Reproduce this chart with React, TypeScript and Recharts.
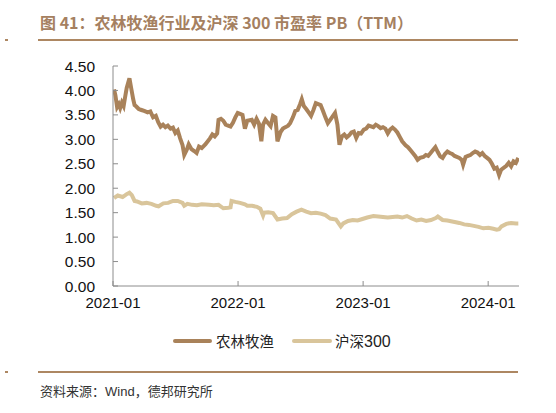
import React from 'react';
import { LineChart, Line, XAxis, YAxis } from 'recharts';

// 农林牧渔 PB (TTM), sampled by trading date
const agriDates = [
  '2021-01-04', '2021-01-08', '2021-01-13', '2021-01-18', '2021-01-22', '2021-01-27', '2021-02-01', '2021-02-05',
  '2021-02-10', '2021-02-18', '2021-02-23', '2021-03-01', '2021-03-05', '2021-03-10', '2021-03-17', '2021-03-25',
  '2021-04-02', '2021-04-12', '2021-04-20', '2021-04-28', '2021-05-06', '2021-05-13', '2021-05-20', '2021-05-27',
  '2021-06-03', '2021-06-10', '2021-06-18', '2021-06-25', '2021-07-02', '2021-07-09', '2021-07-16', '2021-07-23',
  '2021-07-28', '2021-08-04', '2021-08-10', '2021-08-18', '2021-08-26', '2021-09-02', '2021-09-09', '2021-09-17',
  '2021-09-28', '2021-10-11', '2021-10-18', '2021-10-25', '2021-11-01', '2021-11-05', '2021-11-12', '2021-11-19',
  '2021-11-26', '2021-12-03', '2021-12-10', '2021-12-17', '2021-12-24', '2021-12-31', '2022-01-07', '2022-01-14',
  '2022-01-21', '2022-01-28', '2022-02-10', '2022-02-17', '2022-02-24', '2022-03-03', '2022-03-10', '2022-03-15',
  '2022-03-22', '2022-03-30', '2022-04-06', '2022-04-13', '2022-04-20', '2022-04-26', '2022-05-05', '2022-05-12',
  '2022-05-20', '2022-05-27', '2022-06-02', '2022-06-10', '2022-06-17', '2022-06-24', '2022-07-01', '2022-07-06',
  '2022-07-12', '2022-07-19', '2022-07-26', '2022-08-02', '2022-08-09', '2022-08-16', '2022-08-23', '2022-08-30',
  '2022-09-06', '2022-09-13', '2022-09-20', '2022-09-27', '2022-10-11', '2022-10-18', '2022-10-24', '2022-10-31',
  '2022-11-07', '2022-11-14', '2022-11-21', '2022-11-28', '2022-12-05', '2022-12-12', '2022-12-19', '2022-12-26',
  '2023-01-03', '2023-01-10', '2023-01-17', '2023-01-31', '2023-02-07', '2023-02-14', '2023-02-21', '2023-02-28',
  '2023-03-07', '2023-03-14', '2023-03-21', '2023-03-28', '2023-04-04', '2023-04-11', '2023-04-18', '2023-04-25',
  '2023-05-05', '2023-05-12', '2023-05-19', '2023-05-26', '2023-06-02', '2023-06-09', '2023-06-16', '2023-06-26',
  '2023-07-03', '2023-07-10', '2023-07-17', '2023-07-24', '2023-07-31', '2023-08-07', '2023-08-14', '2023-08-21',
  '2023-08-28', '2023-09-04', '2023-09-11', '2023-09-18', '2023-09-25', '2023-10-09', '2023-10-16', '2023-10-20',
  '2023-10-27', '2023-11-03', '2023-11-10', '2023-11-17', '2023-11-24', '2023-12-01', '2023-12-08', '2023-12-15',
  '2023-12-22', '2023-12-29', '2024-01-05', '2024-01-12', '2024-01-19', '2024-01-26', '2024-02-02', '2024-02-08',
  '2024-02-23', '2024-03-01', '2024-03-08', '2024-03-15', '2024-03-22', '2024-03-29',
];
const agriValues = [
  4.02, 3.9, 3.66, 3.72, 3.64, 3.75, 3.68, 3.85,
  4.05, 4.25, 4.05, 3.82, 3.7, 3.67, 3.62, 3.6,
  3.58, 3.55, 3.57, 3.45, 3.48, 3.35, 3.26, 3.3,
  3.25, 3.28, 3.22, 3.24, 3.13, 3.18, 3.02, 2.88,
  2.68, 2.78, 2.9, 2.8, 2.76, 2.72, 2.85, 2.82,
  2.9, 3.02, 3.1, 3.06, 3.12, 3.4, 3.42, 3.38,
  3.3, 3.28, 3.26, 3.34, 3.45, 3.54, 3.52, 3.5,
  3.22, 3.38, 3.4, 3.3, 3.42, 3.32, 2.96, 3.3,
  3.4, 3.33, 3.27, 3.48, 3.45, 2.96, 3.15, 3.22,
  3.25, 3.28, 3.33, 3.45, 3.58, 3.6, 3.72, 3.82,
  3.68, 3.62, 3.55, 3.48, 3.6, 3.74, 3.72, 3.7,
  3.58, 3.45, 3.33, 3.4, 3.54, 3.3, 2.89, 3.06,
  3.1, 3.04, 3.08, 3.14, 3.16, 3.03, 3.13, 3.12,
  3.2, 3.22, 3.28, 3.25, 3.3, 3.27, 3.23, 3.25,
  3.22, 3.12, 3.2, 3.24, 3.2, 3.14, 3.05, 2.96,
  2.88, 2.84, 2.78, 2.72, 2.66, 2.58, 2.62, 2.64,
  2.68, 2.66, 2.72, 2.78, 2.84, 2.74, 2.65, 2.62,
  2.7, 2.75, 2.72, 2.7, 2.66, 2.62, 2.58, 2.48,
  2.64, 2.66, 2.68, 2.72, 2.75, 2.73, 2.68, 2.72,
  2.66, 2.62, 2.58, 2.5, 2.4, 2.42, 2.27, 2.38,
  2.46, 2.52, 2.45, 2.55, 2.52, 2.62,
];

// 沪深300 PB (TTM)
const hs300Dates = [
  '2021-01-04', '2021-01-15', '2021-01-29', '2021-02-10', '2021-02-18', '2021-02-25', '2021-03-05', '2021-03-12',
  '2021-03-26', '2021-04-09', '2021-04-23', '2021-05-07', '2021-05-14', '2021-05-28', '2021-06-11', '2021-06-25',
  '2021-07-09', '2021-07-23', '2021-07-28', '2021-08-06', '2021-08-20', '2021-09-03', '2021-09-17', '2021-10-08',
  '2021-10-22', '2021-11-05', '2021-11-19', '2021-12-03', '2021-12-10', '2021-12-13', '2021-12-24', '2022-01-07',
  '2022-01-21', '2022-01-28', '2022-02-11', '2022-02-25', '2022-03-07', '2022-03-15', '2022-03-18', '2022-03-30',
  '2022-04-13', '2022-04-26', '2022-05-10', '2022-05-24', '2022-06-07', '2022-06-21', '2022-07-05', '2022-07-19',
  '2022-08-02', '2022-08-16', '2022-08-30', '2022-09-13', '2022-09-27', '2022-10-14', '2022-10-28', '2022-11-04',
  '2022-11-18', '2022-12-02', '2022-12-16', '2022-12-30', '2023-01-13', '2023-01-31', '2023-02-14', '2023-02-28',
  '2023-03-14', '2023-03-28', '2023-04-11', '2023-04-25', '2023-05-09', '2023-05-23', '2023-06-06', '2023-06-20',
  '2023-07-04', '2023-07-18', '2023-08-01', '2023-08-07', '2023-08-21', '2023-09-04', '2023-09-18', '2023-10-09',
  '2023-10-23', '2023-11-06', '2023-11-20', '2023-12-04', '2023-12-18', '2024-01-02', '2024-01-16', '2024-01-26',
  '2024-02-02', '2024-02-09', '2024-02-23', '2024-03-08', '2024-03-22', '2024-03-29',
];
const hs300Values = [
  1.8, 1.85, 1.82, 1.88, 1.91, 1.86, 1.74, 1.73,
  1.69, 1.7, 1.68, 1.64, 1.63, 1.69, 1.7, 1.74,
  1.74, 1.7, 1.64, 1.68, 1.66, 1.65, 1.67, 1.66,
  1.65, 1.66, 1.59, 1.6, 1.61, 1.74, 1.72, 1.7,
  1.67, 1.64, 1.64, 1.62, 1.58, 1.44, 1.5, 1.51,
  1.49, 1.36, 1.38, 1.39, 1.47, 1.52, 1.56, 1.52,
  1.49, 1.5, 1.48, 1.45, 1.38, 1.36, 1.22, 1.28,
  1.33, 1.35, 1.34, 1.37, 1.4, 1.43, 1.42, 1.41,
  1.4, 1.41, 1.42, 1.4, 1.43, 1.38, 1.34, 1.36,
  1.33, 1.35, 1.39, 1.42, 1.35, 1.34, 1.32, 1.29,
  1.26, 1.25, 1.23, 1.21, 1.18, 1.19, 1.17, 1.15,
  1.16, 1.22, 1.27, 1.29, 1.28, 1.28,
];

const yTicks = [0, 0.5, 1, 1.5, 2, 2.5, 3, 3.5, 4, 4.5];
const xTickLabels = ['2021-01', '2022-01', '2023-01', '2024-01'];
const xStart = '2021-01-01';
const xEnd = '2024-03-31';

const toTime = (d: string) => Date.parse(d + 'T00:00:00Z');

const agriData = agriDates.map((d, i) => ({ t: toTime(d), v: agriValues[i] }));
const hs300Data = hs300Dates.map((d, i) => ({ t: toTime(d), v: hs300Values[i] }));
const xTicks = xTickLabels.map((s) => toTime(s + '-01'));

const BROWN = '#a9825a';
const LIGHT = '#d9c59b';
const RULE = '#ad8762';
const AXIS = '#8c8c8c';
const FONT = '"Liberation Sans", Arial, sans-serif';
const CJK = '"Noto Sans CJK SC", sans-serif';

const fmtX = (t: number) => {
  const d = new Date(t);
  return `${d.getUTCFullYear()}-${String(d.getUTCMonth() + 1).padStart(2, '0')}`;
};

export default function App() {
  return (
    <div style={{ position: 'absolute', left: 0, top: 0, width: 556, height: 413, background: '#fff', overflow: 'hidden' }}>
      {/* title */}
      <div
        style={{
          position: 'absolute', left: 40, top: 11, fontFamily: CJK, fontWeight: 700,
          fontSize: 16, color: '#a58060', whiteSpace: 'nowrap', lineHeight: '22px',
        }}
      >
        图 41：农林牧渔行业及沪深 300 市盈率 PB（TTM）
      </div>
      <div style={{ position: 'absolute', left: 5, top: 39, width: 3, height: 2, background: RULE }} />
      <div style={{ position: 'absolute', left: 38, top: 39, width: 480, height: 2, background: RULE }} />

      <div style={{ position: 'absolute', left: 0, top: 0 }}>
        <LineChart width={556} height={330} margin={{ top: 66, right: 37, bottom: 14, left: 53 }}>
          <XAxis
            dataKey="t"
            type="number"
            domain={[toTime(xStart), toTime(xEnd)]}
            ticks={xTicks}
            tickFormatter={fmtX}
            allowDataOverflow
            height={30}
            stroke={AXIS}
            tickSize={-5}
            tickMargin={16}
            tick={{ fill: '#111', fontSize: 15, fontFamily: FONT }}
          />
          <YAxis
            type="number"
            domain={[0, 4.5]}
            ticks={yTicks}
            tickFormatter={(v: number) => v.toFixed(2)}
            width={60}
            stroke={AXIS}
            tickSize={-5}
            tickMargin={23}
            tick={{ fill: '#111', fontSize: 15.5, fontFamily: FONT }}
          />
          <Line
            data={hs300Data}
            dataKey="v"
            type="linear"
            stroke={LIGHT}
            strokeWidth={4}
            dot={false}
            isAnimationActive={false}
            name="沪深300"
          />
          <Line
            data={agriData}
            dataKey="v"
            type="linear"
            stroke={BROWN}
            strokeWidth={4}
            dot={false}
            isAnimationActive={false}
            name="农林牧渔"
          />
        </LineChart>
      </div>

      {/* legend */}
      <div style={{ position: 'absolute', left: 173, top: 339, width: 39, height: 4, borderRadius: 2, background: BROWN }} />
      <div style={{ position: 'absolute', left: 216, top: 331, fontFamily: CJK, fontSize: 14.5, color: '#222', lineHeight: '20px' }}>
        农林牧渔
      </div>
      <div style={{ position: 'absolute', left: 292, top: 339, width: 40, height: 4, borderRadius: 2, background: LIGHT }} />
      <div style={{ position: 'absolute', left: 335, top: 331, fontFamily: CJK, fontSize: 14.5, color: '#222', lineHeight: '20px', whiteSpace: 'nowrap' }}>
        沪深<span style={{ fontFamily: FONT, fontSize: 16 }}>300</span>
      </div>

      <div style={{ position: 'absolute', left: 5, top: 371, width: 3, height: 2, background: RULE }} />
      <div style={{ position: 'absolute', left: 38, top: 371, width: 480, height: 2, background: RULE }} />
      <div style={{ position: 'absolute', left: 40, top: 381, fontFamily: CJK, fontSize: 13, color: '#333', lineHeight: '19px', whiteSpace: 'nowrap' }}>
        资料来源：<span style={{ fontFamily: FONT }}>Wind</span>，德邦研究所
      </div>
    </div>
  );
}
